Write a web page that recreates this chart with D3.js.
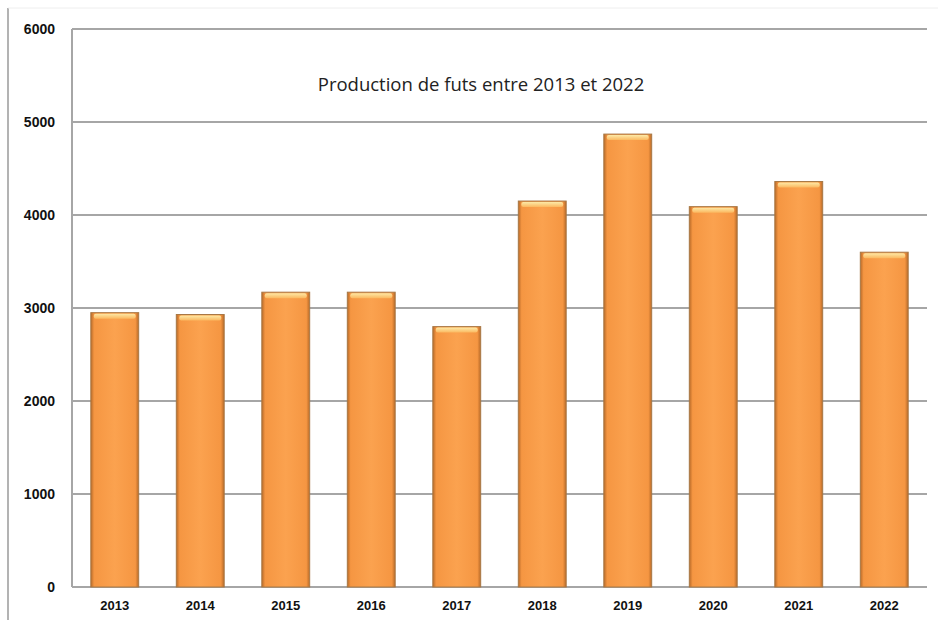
<!DOCTYPE html>
<html>
<head>
<meta charset="utf-8">
<script src="https://cdn.jsdelivr.net/npm/d3@7"></script>
<style>
  body { margin: 0; background: #fff; }
  svg { display: block; }
</style>
</head>
<body>
<div id="chart"></div>
<script>
// données
const years = ['2013', '2014', '2015', '2016', '2017', '2018', '2019', '2020', '2021', '2022'];
const production = [2950, 2930, 3170, 3170, 2800, 4150, 4870, 4090, 4360, 3600];
const yTicks = [0, 1000, 2000, 3000, 4000, 5000, 6000];
const title = 'Production de futs entre 2013 et 2022';

const width = 938;
const height = 620;
const margin = { top: 29, right: 11, bottom: 33, left: 72 };

const svg = d3.select('#chart')
    .append('svg')
    .attr('width', width)
    .attr('height', height);

// dégradés pour l'effet "biseau" des barres
const defs = svg.append('defs');
const grad = defs.append('linearGradient')
    .attr('id', 'barGrad')
    .attr('x1', '0%').attr('x2', '100%')
    .attr('y1', '0%').attr('y2', '0%');
grad.append('stop').attr('offset', '0%').attr('stop-color', '#b86a28');
grad.append('stop').attr('offset', '7%').attr('stop-color', '#f59642');
grad.append('stop').attr('offset', '50%').attr('stop-color', '#fba24f');
grad.append('stop').attr('offset', '93%').attr('stop-color', '#f59642');
grad.append('stop').attr('offset', '100%').attr('stop-color', '#b86a28');

const capGrad = defs.append('linearGradient')
    .attr('id', 'capGrad')
    .attr('x1', '0%').attr('x2', '0%')
    .attr('y1', '0%').attr('y2', '100%');
capGrad.append('stop').attr('offset', '0%').attr('stop-color', '#fde9a6');
capGrad.append('stop').attr('offset', '100%').attr('stop-color', '#fbb860');

// cadre extérieur
svg.append('line')
    .attr('x1', 8).attr('x2', 8)
    .attr('y1', 8).attr('y2', height)
    .attr('stroke', '#9a9a9a').attr('stroke-width', 1.5);
svg.append('line')
    .attr('x1', 8).attr('x2', width)
    .attr('y1', 8).attr('y2', 8)
    .attr('stroke', '#eeeeee').attr('stroke-width', 1);

const x = d3.scaleBand()
    .domain(years)
    .range([margin.left, width - margin.right])
    .paddingInner(0.44)
    .paddingOuter(0.22);

const y = d3.scaleLinear()
    .domain([0, 6000])
    .range([height - margin.bottom, margin.top]);

// grille horizontale
svg.append('g')
    .selectAll('line')
    .data(yTicks)
    .enter()
    .append('line')
    .attr('x1', margin.left)
    .attr('x2', width - margin.right)
    .attr('y1', d => y(d))
    .attr('y2', d => y(d))
    .attr('stroke', '#a6a6a6')
    .attr('stroke-width', 2);

// axe vertical
svg.append('line')
    .attr('x1', margin.left).attr('x2', margin.left)
    .attr('y1', y(6000)).attr('y2', y(0))
    .attr('stroke', '#a6a6a6').attr('stroke-width', 2);

// étiquettes Y
const yAxis = svg.append('g')
    .attr('transform', `translate(${margin.left - 17},0)`)
    .call(d3.axisLeft(y).tickValues(yTicks).tickFormat(d3.format('d')).tickSize(0).tickPadding(0));
yAxis.select('.domain').remove();
yAxis.selectAll('text')
    .attr('font-family', 'Liberation Sans, Arial, sans-serif')
    .attr('font-weight', 'bold')
    .attr('font-size', 14)
    .attr('fill', '#111');

// étiquettes X
const xAxis = svg.append('g')
    .attr('transform', `translate(0,${y(0) + 14})`)
    .call(d3.axisBottom(x).tickSize(0).tickPadding(0));
xAxis.select('.domain').remove();
xAxis.selectAll('text')
    .attr('font-family', 'Liberation Sans, Arial, sans-serif')
    .attr('font-weight', 'bold')
    .attr('font-size', 13)
    .attr('fill', '#111');

// barres
const bars = svg.append('g')
    .selectAll('g')
    .data(years.map((yr, i) => ({ year: yr, value: production[i] })))
    .enter()
    .append('g');

bars.append('rect')
    .attr('x', d => x(d.year))
    .attr('y', d => y(d.value))
    .attr('width', x.bandwidth())
    .attr('height', d => y(0) - y(d.value))
    .attr('fill', 'url(#barGrad)')
    .attr('stroke', '#a87845')
    .attr('stroke-width', 1);

bars.append('rect')
    .attr('x', d => x(d.year) + 3)
    .attr('y', d => y(d.value) + 1)
    .attr('width', x.bandwidth() - 6)
    .attr('height', 5)
    .attr('rx', 2)
    .attr('fill', 'url(#capGrad)');

// titre
svg.append('text')
    .attr('x', 481)
    .attr('y', 91)
    .attr('text-anchor', 'middle')
    .attr('font-family', 'Open Sans, Liberation Sans, sans-serif')
    .attr('font-size', 18.5)
    .attr('fill', '#222')
    .text(title);
</script>
</body>
</html>
